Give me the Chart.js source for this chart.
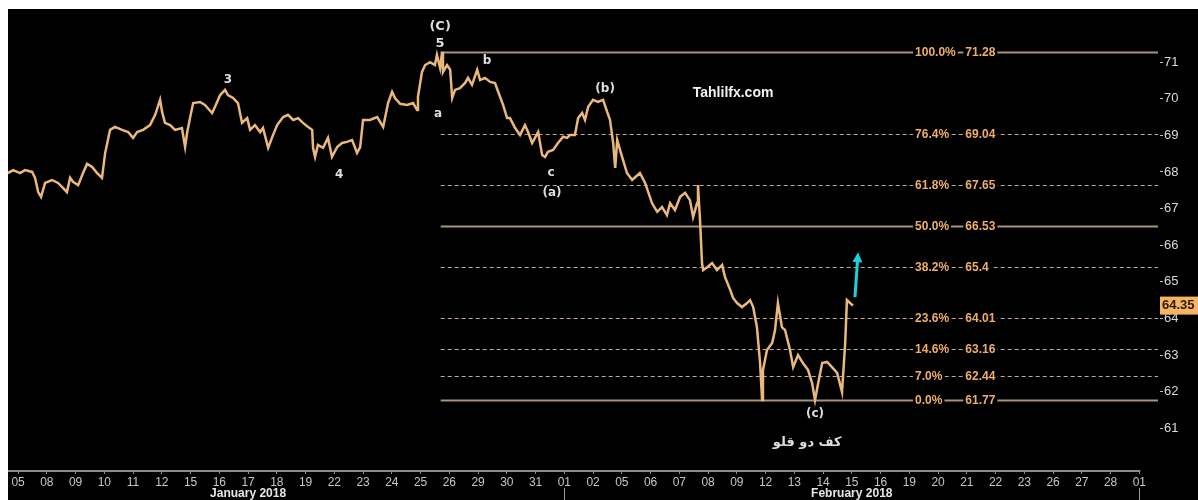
<!DOCTYPE html>
<html>
<head>
<meta charset="utf-8">
<title>Crude Oil - Elliott / Fibonacci</title>
<script src="https://cdn.jsdelivr.net/npm/chart.js@4/dist/chart.umd.min.js"></script>
<style>
    html, body { margin: 0; padding: 0; background: #fff; }
    #wrap { position: absolute; left: 8px; top: 9px; width: 1190px; height: 491px; background: #000; }
    canvas { display: block; }
</style>
</head>
<body>
<div id="wrap"><canvas id="oilChart"></canvas></div>
<script>
// trading days on the time axis (index 0 = Jan 05)
const dayLabels = ['05', '08', '09', '10', '11', '12', '15', '16', '17', '18', '19', '22', '23', '24', '25', '26', '29', '30', '31',
    '01', '02', '05', '06', '07', '08', '09', '12', '13', '14', '15', '16', '19', '20', '21', '22', '23', '26', '27', '28', '01'];
const monthLabels = ['January 2018', 'February 2018'];
const monthCenters = [8.0, 29.0];
const monthStarts = [19, 39];

// price path: position in trading days, price
const sessionPos = [
    -0.35, -0.17, 0.07, 0.24, 0.49, 0.59, 0.70, 0.80, 0.94, 1.18, 1.39, 1.57, 1.70, 1.81, 1.91, 2.09, 2.26, 2.40, 2.57, 2.75,
    2.92, 3.03, 3.20, 3.37, 3.62, 3.83, 4.00, 4.14, 4.35, 4.59, 4.77, 4.94, 5.01, 5.11, 5.29, 5.46, 5.70, 5.81, 5.88, 5.98,
    6.09, 6.33, 6.50, 6.75, 6.85, 7.03, 7.20, 7.30, 7.48, 7.65, 7.79, 7.97, 8.07, 8.24, 8.42, 8.52, 8.70, 8.83, 9.01, 9.22,
    9.39, 9.57, 9.74, 9.91, 10.09, 10.23, 10.26, 10.33, 10.43, 10.61, 10.78, 10.92, 11.10, 11.27, 11.44, 11.62, 11.79, 11.90, 12.00, 12.24,
    12.49, 12.70, 12.87, 13.01, 13.11, 13.29, 13.53, 13.74, 13.88, 13.91, 14.05, 14.16, 14.33, 14.50, 14.57, 14.68, 14.75, 14.78, 14.92, 15.03,
    15.10, 15.20, 15.37, 15.55, 15.65, 15.79, 15.97, 16.07, 16.24, 16.42, 16.59, 16.70, 16.87, 17.01, 17.11, 17.29, 17.46, 17.63, 17.74, 17.88,
    17.98, 18.09, 18.23, 18.33, 18.43, 18.61, 18.78, 18.96, 19.10, 19.20, 19.37, 19.48, 19.62, 19.72, 19.83, 20.00, 20.17, 20.35, 20.49, 20.59,
    20.70, 20.77, 20.84, 21.01, 21.18, 21.36, 21.63, 21.81, 22.05, 22.23, 22.40, 22.57, 22.68, 22.85, 23.03, 23.20, 23.37, 23.48, 23.62, 23.65,
    23.72, 23.79, 23.83, 23.97, 24.14, 24.31, 24.49, 24.59, 24.77, 24.87, 25.01, 25.18, 25.36, 25.46, 25.57, 25.70, 25.81, 25.88, 25.91, 26.05,
    26.23, 26.33, 26.43, 26.57, 26.68, 26.85, 26.96, 27.13, 27.30, 27.48, 27.62, 27.72, 27.83, 27.97, 28.14, 28.31, 28.49, 28.66, 28.77, 28.83,
    28.94, 29.04
];
const prices = [
    67.97, 68.05, 67.97, 68.05, 68.00, 67.84, 67.45, 67.32, 67.70, 67.78, 67.70, 67.56, 67.45, 67.84, 67.73, 67.64, 67.97, 68.22, 68.14, 67.97,
    67.84, 68.52, 69.15, 69.23, 69.15, 69.09, 68.93, 69.09, 69.15, 69.28, 69.56, 69.97, 69.64, 69.34, 69.28, 69.15, 69.20, 68.68, 69.07, 69.47,
    69.88, 69.91, 69.83, 69.61, 69.78, 70.10, 70.24, 70.10, 70.02, 69.88, 69.34, 69.47, 69.15, 69.28, 69.09, 69.20, 68.66, 68.93, 69.28, 69.50,
    69.56, 69.42, 69.47, 69.34, 69.23, 69.15, 68.66, 68.41, 68.74, 68.66, 68.93, 68.41, 68.68, 68.79, 68.82, 68.87, 68.52, 68.68, 69.42, 69.42,
    69.50, 69.23, 69.88, 70.19, 70.02, 69.86, 69.83, 69.88, 69.69, 70.05, 70.73, 70.92, 71.00, 70.92, 71.20, 70.84, 71.28, 70.73, 70.92, 70.79,
    70.02, 70.24, 70.29, 70.43, 70.57, 70.38, 70.79, 70.51, 70.57, 70.46, 70.43, 70.19, 69.83, 69.47, 69.47, 69.20, 69.01, 69.28, 69.09, 68.79,
    68.93, 69.09, 68.46, 68.41, 68.55, 68.60, 68.79, 68.96, 68.93, 69.01, 69.01, 69.47, 69.61, 69.42, 69.78, 69.97, 69.91, 69.97, 69.64, 69.42,
    68.79, 68.11, 68.87, 68.41, 67.97, 67.78, 67.97, 67.70, 67.15, 66.91, 67.04, 66.82, 67.15, 66.96, 67.32, 67.43, 67.23, 66.77, 67.15, 67.64,
    66.69, 65.51, 65.32, 65.40, 65.51, 65.32, 65.46, 65.13, 64.78, 64.56, 64.42, 64.31, 64.42, 64.50, 64.31, 63.76, 62.78, 61.77, 62.59, 63.14,
    63.33, 63.68, 64.42, 63.76, 63.68, 63.14, 62.67, 63.00, 62.78, 62.59, 62.23, 61.77, 62.23, 62.78, 62.81, 62.67, 62.51, 61.99, 63.33, 64.50,
    64.42, 64.35
];

const yTicks = [61, 62, 63, 64, 65, 66, 67, 68, 69, 70, 71];

// fibonacci retracement of the (C) top -> (c) bottom move
const fibPct = ['100.0%', '76.4%', '61.8%', '50.0%', '38.2%', '23.6%', '14.6%', '7.0%', '0.0%'];
const fibLevels = [71.28, 69.04, 67.65, 66.53, 65.4, 64.01, 63.16, 62.44, 61.77];
const fibSolid = [true, false, false, true, false, false, false, false, true];
const fibStart = 14.7;

// wave counts and notes (x in trading days, y in price)
const notes = [
    { t: '(C)', x: 14.68, y: 71.98, size: 13 },
    { t: '5', x: 14.68, y: 71.50, size: 13 },
    { t: '3', x: 7.30, y: 70.51, size: 12 },
    { t: '4', x: 11.17, y: 67.92, size: 12 },
    { t: 'a', x: 14.61, y: 69.58, size: 12 },
    { t: 'b', x: 16.31, y: 71.03, size: 12 },
    { t: 'c', x: 18.54, y: 67.97, size: 12 },
    { t: '(a)', x: 18.57, y: 67.43, size: 12 },
    { t: '(b)', x: 20.42, y: 70.27, size: 12 },
    { t: '(c)', x: 27.72, y: 61.39, size: 12 },
    { t: 'کف دو قلو', x: 27.45, y: 60.60, size: 13 },
    { t: 'Tahlilfx.com', x: 24.87, y: 70.16, size: 14 }
];
const arrowFrom = { x: 29.11, y: 64.58 };
const arrowTo = { x: 29.22, y: 65.81 };

const overlay = {
    id: 'overlay',
    beforeDatasetsDraw(chart) {
        const { ctx, chartArea, scales: { x, y } } = chart;
        const x0 = x.getPixelForValue(fibStart);
        const x1 = chartArea.right - 2;
        ctx.save();
        fibLevels.forEach((lv, i) => {
            const py = Math.round(y.getPixelForValue(lv)) + 0.5;
            ctx.beginPath();
            ctx.setLineDash(fibSolid[i] ? [] : [4, 3]);
            ctx.strokeStyle = fibSolid[i] ? '#a4947a' : '#c8a79b';
            ctx.lineWidth = fibSolid[i] ? 2 : 1.2;
            ctx.moveTo(x0, py);
            ctx.lineTo(x1, py);
            ctx.stroke();

            // labels sit on the line with a black box behind
            ctx.setLineDash([]);
            ctx.font = 'bold 12px "Liberation Sans", Arial, sans-serif';
            ctx.textBaseline = 'middle';
            const lx = x.getPixelForValue(31.2);
            const vx = x.getPixelForValue(32.95);
            const pw = ctx.measureText(fibPct[i]).width;
            const vw = ctx.measureText(String(lv)).width;
            ctx.fillStyle = '#000';
            ctx.fillRect(lx - 2, py - 7, pw + 4, 14);
            ctx.fillRect(vx - 2, py - 7, vw + 4, 14);
            ctx.fillStyle = '#eeae68';
            ctx.fillText(fibPct[i], lx, py);
            ctx.fillText(String(lv), vx, py);
        });
        ctx.restore();
    },
    afterDatasetsDraw(chart) {
        const { ctx, scales: { x, y } } = chart;
        ctx.save();
        ctx.textAlign = 'center';
        ctx.textBaseline = 'middle';
        notes.forEach(n => {
            ctx.font = 'bold ' + n.size + 'px "DejaVu Sans", "Liberation Sans", sans-serif';
            if (n.t === 'Tahlilfx.com') ctx.font = 'bold 14px "Liberation Sans", Arial, sans-serif';
            ctx.fillStyle = n.t === 'Tahlilfx.com' ? '#f2f2f2' : '#dedede';
            ctx.fillText(n.t, x.getPixelForValue(n.x), y.getPixelForValue(n.y));
        });

        // cyan arrow pointing up
        const ax = x.getPixelForValue(arrowFrom.x), ay = y.getPixelForValue(arrowFrom.y);
        const bx = x.getPixelForValue(arrowTo.x), by = y.getPixelForValue(arrowTo.y);
        const ang = Math.atan2(by - ay, bx - ax);
        ctx.strokeStyle = '#18d2e0';
        ctx.fillStyle = '#18d2e0';
        ctx.lineWidth = 3;
        ctx.beginPath();
        ctx.moveTo(ax, ay);
        ctx.lineTo(bx - 6 * Math.cos(ang), by - 6 * Math.sin(ang));
        ctx.stroke();
        ctx.beginPath();
        ctx.moveTo(bx, by);
        ctx.lineTo(bx - 10 * Math.cos(ang) + 5 * Math.sin(ang), by - 10 * Math.sin(ang) - 5 * Math.cos(ang));
        ctx.lineTo(bx - 10 * Math.cos(ang) - 5 * Math.sin(ang), by - 10 * Math.sin(ang) + 5 * Math.cos(ang));
        ctx.closePath();
        ctx.fill();
        ctx.restore();
    },
    afterDraw(chart) {
        const { ctx, chartArea, scales: { x, y } } = chart;
        ctx.save();
        // axis line stops at the last day tick
        ctx.strokeStyle = '#8c8c8c';
        ctx.lineWidth = 2;
        ctx.beginPath();
        ctx.moveTo(chartArea.left, chartArea.bottom + 1);
        ctx.lineTo(x.getPixelForValue(dayLabels.length - 1) + 1, chartArea.bottom + 1);
        ctx.stroke();

        // month names and separators under the day ticks
        ctx.font = 'bold 12px "Liberation Sans", Arial, sans-serif';
        ctx.fillStyle = '#e6e6e6';
        ctx.textAlign = 'center';
        ctx.textBaseline = 'middle';
        monthLabels.forEach((m, i) => ctx.fillText(m, x.getPixelForValue(monthCenters[i]), chartArea.bottom + 24));
        ctx.strokeStyle = '#9a9a9a';
        ctx.lineWidth = 1;
        monthStarts.forEach(s => {
            const px = Math.round(x.getPixelForValue(s)) + 0.5;
            ctx.beginPath();
            ctx.moveTo(px, chartArea.bottom + 18);
            ctx.lineTo(px, chart.height);
            ctx.stroke();
        });

        // last price tag on the axis
        const last = prices[prices.length - 1];
        const py = y.getPixelForValue(last);
        ctx.fillStyle = '#f6b565';
        ctx.fillRect(chartArea.right, py - 9, chart.width - chartArea.right, 18);
        ctx.fillStyle = '#2a1a08';
        ctx.font = 'bold 13px "Liberation Sans", Arial, sans-serif';
        ctx.textAlign = 'left';
        ctx.fillText(last.toFixed(2), chartArea.right + 2, py);
        ctx.restore();
    }
};

new Chart(document.getElementById('oilChart'), {
    type: 'line',
    data: {
        datasets: [{
            data: sessionPos.map((d, i) => ({ x: d, y: prices[i] })),
            borderColor: '#eab77c',
            borderWidth: 2.5,
            pointRadius: 0,
            tension: 0
        }]
    },
    options: {
        responsive: true,
        maintainAspectRatio: false,
        animation: false,
        layout: { padding: 0 },
        plugins: { legend: { display: false }, tooltip: { enabled: false } },
        scales: {
            x: {
                type: 'linear',
                min: -0.35,
                max: 39.72,
                afterBuildTicks: s => { s.ticks = dayLabels.map((_, i) => ({ value: i })); },
                afterFit: s => { s.height = 30; s.paddingLeft = 0; s.paddingRight = 0; },
                ticks: {
                    autoSkip: false,
                    maxRotation: 0,
                    padding: 1,
                    color: '#c6c6c6',
                    font: { size: 12, family: 'Liberation Sans' },
                    callback: v => dayLabels[v]
                },
                grid: { drawOnChartArea: false, drawTicks: true, tickLength: 4, color: '#8c8c8c' },
                border: { display: false }
            },
            y: {
                position: 'right',
                min: 59.86,
                max: 72.45,
                afterBuildTicks: s => { s.ticks = yTicks.map(v => ({ value: v })); },
                afterFit: s => { s.width = 38; s.paddingTop = 0; s.paddingBottom = 0; },
                ticks: { padding: 1, color: '#dadada', font: { size: 13, family: 'Liberation Sans' } },
                grid: { drawOnChartArea: false, drawTicks: true, tickLength: 3, color: '#bdbdbd' },
                border: { display: false }
            }
        }
    },
    plugins: [overlay]
});
</script>
</body>
</html>
